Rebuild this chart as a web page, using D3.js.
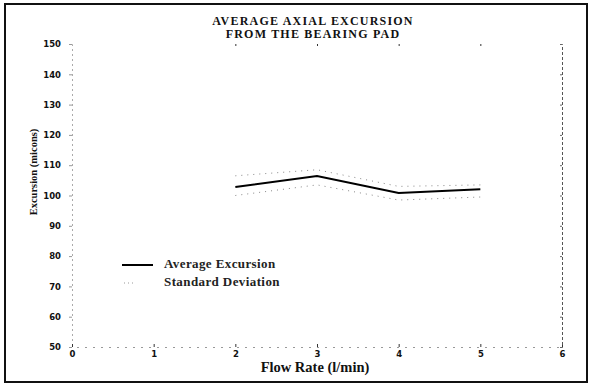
<!DOCTYPE html>
<html>
<head>
<meta charset="utf-8">
<script src="https://cdn.jsdelivr.net/npm/d3@7"></script>
<style>
  body { margin: 0; background: #fff; }
  svg { display: block; }
</style>
</head>
<body>
<svg id="chart" width="592" height="391"></svg>
<script>
const flowRates = [2, 3, 4, 5];
const avgExcursion = [102.8, 106.4, 100.8, 102.1];
const sdUpper = [106.5, 108.5, 103, 103.5];
const sdLower = [100, 103.5, 98.5, 99.5];
const xTicks = [0, 1, 2, 3, 4, 5, 6];
const yTicks = [50, 60, 70, 80, 90, 100, 110, 120, 130, 140, 150];
const titleLines = ['AVERAGE AXIAL EXCURSION', 'FROM THE BEARING PAD'];

const width = 592;
const height = 391;
const margin = { top: 44, right: 30, bottom: 44, left: 72 };

const svg = d3.select('#chart');
const serif = '"Liberation Serif", "DejaVu Serif", serif';
const sans = '"DejaVu Sans", sans-serif';

// outer frame
svg.append('rect')
  .attr('x', 5).attr('y', 4)
  .attr('width', 582).attr('height', 378)
  .attr('fill', 'none')
  .attr('stroke', '#111')
  .attr('stroke-width', 2);

const x = d3.scaleLinear().domain([0, 6]).range([margin.left, width - margin.right]);
const y = d3.scaleLinear().domain([50, 150]).range([height - margin.bottom, margin.top]);

// left axis
const yAxis = svg.append('g')
  .attr('transform', `translate(${margin.left},0)`)
  .call(d3.axisLeft(y).tickValues(yTicks).tickSize(3).tickPadding(8));
yAxis.select('.domain').attr('stroke', '#aaa').attr('stroke-dasharray', '2,3');
yAxis.selectAll('.tick line').attr('stroke', '#999');
yAxis.selectAll('.tick text')
  .style('font', `bold 8.5px ${sans}`)
  .attr('fill', '#111');

// bottom axis
const xAxis = svg.append('g')
  .attr('transform', `translate(0,${y(50)})`)
  .call(d3.axisBottom(x).tickValues(xTicks).tickFormat(d3.format('d')).tickSize(-3).tickPadding(4));
xAxis.select('.domain').attr('stroke', '#999').attr('stroke-dasharray', '2,6');
xAxis.selectAll('.tick line').attr('stroke', '#333');
xAxis.selectAll('.tick text')
  .style('font', `bold 8.5px ${sans}`)
  .attr('fill', '#111');

// right axis (no labels)
const rAxis = svg.append('g')
  .attr('transform', `translate(${x(6)},0)`)
  .call(d3.axisRight(y).tickValues(yTicks).tickSize(-2).tickFormat(''));
rAxis.select('.domain').attr('stroke', '#555').attr('stroke-dasharray', '3,2');
rAxis.selectAll('.tick line').attr('stroke', '#666');

// top axis ticks only
const tAxis = svg.append('g')
  .attr('transform', `translate(0,${y(150)})`)
  .call(d3.axisTop(x).tickValues(xTicks.slice(2, 6)).tickSize(-2).tickFormat(''));
tAxis.select('.domain').remove();
tAxis.selectAll('.tick line').attr('stroke', '#333');

// standard deviation bands
const sdLine = (vals) => d3.line()
  .x((d, i) => x(flowRates[i]))
  .y((d) => y(d))(vals);

[sdUpper, sdLower].forEach((vals) => {
  svg.append('path')
    .attr('d', sdLine(vals))
    .attr('fill', 'none')
    .attr('stroke', '#888')
    .attr('stroke-width', 1)
    .attr('stroke-dasharray', '1,5');
});

// average line
svg.append('path')
  .datum(avgExcursion)
  .attr('fill', 'none')
  .attr('stroke', '#000')
  .attr('stroke-width', 2)
  .attr('d', d3.line().x((d, i) => x(flowRates[i])).y((d) => y(d)));

// title
svg.append('g').selectAll('text')
  .data(titleLines)
  .join('text')
  .attr('x', 313)
  .attr('y', (d, i) => 25 + i * 13)
  .attr('text-anchor', 'middle')
  .style('font', `bold 12px ${serif}`)
  .style('letter-spacing', '1.2px')
  .attr('fill', '#111')
  .text((d) => d);

// axis labels
svg.append('text')
  .attr('transform', 'translate(37,172) rotate(-90)')
  .attr('text-anchor', 'middle')
  .style('font', `bold 10.5px ${serif}`)
  .attr('fill', '#111')
  .text('Excursion (micons)');

svg.append('text')
  .attr('x', 315)
  .attr('y', 372)
  .attr('text-anchor', 'middle')
  .style('font', `bold 14.5px ${serif}`)
  .attr('fill', '#111')
  .text('Flow Rate (l/min)');

// legend
const legend = svg.append('g');
legend.append('line')
  .attr('x1', 122).attr('x2', 153)
  .attr('y1', 265).attr('y2', 265)
  .attr('stroke', '#000').attr('stroke-width', 2);
legend.append('line')
  .attr('x1', 124).attr('x2', 134)
  .attr('y1', 283).attr('y2', 283)
  .attr('stroke', '#999').attr('stroke-width', 1)
  .attr('stroke-dasharray', '1,3');
legend.selectAll('text')
  .data(['Average Excursion', 'Standard Deviation'])
  .join('text')
  .attr('x', 164)
  .attr('y', (d, i) => 268 + i * 18)
  .style('font', `bold 13px ${serif}`)
  .style('letter-spacing', '0.4px')
  .attr('fill', '#222')
  .text((d) => d);
</script>
</body>
</html>
